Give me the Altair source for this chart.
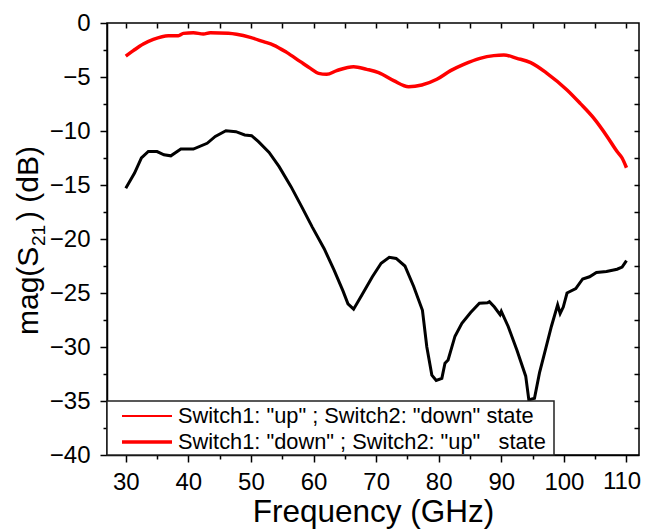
import altair as alt
import pandas as pd

# ---- data ----
red_f = [30.0, 31.2, 32.8, 34.4, 36.8, 38.4, 39.2, 40.8, 42.4, 43.5, 46.4, 47.7, 49.9, 52.0, 53.6,
         55.7, 57.9, 59.5, 60.8, 62.1, 63.7, 66.4, 68.5, 70.4, 72.8, 75.2, 77.3, 79.7, 81.9, 84.0,
         86.6, 88.8, 90.4, 92.5, 94.7, 97.3, 100.5, 102.6, 104.8, 106.9, 108.5, 109.3, 110.0]
red_db = [-3.06, -2.56, -1.94, -1.51, -1.17, -1.17, -0.96, -0.90, -1.02, -0.90, -0.96, -1.05, -1.33, -1.73, -2.04,
          -2.72, -3.58, -4.20, -4.66, -4.75, -4.41, -4.04, -4.29, -4.60, -5.34, -5.90, -5.74, -5.21, -4.41, -3.83,
          -3.27, -3.02, -2.96, -3.27, -3.67, -4.66, -6.20, -7.44, -8.83, -10.50, -11.90, -12.50, -13.40]

black_f = [30.0, 31.4, 32.5, 33.6, 35.0, 36.1, 37.2, 38.8, 40.8, 43.0, 44.3, 46.0, 47.6, 49.0, 50.1,
           51.2, 52.9, 54.5, 56.4, 58.1, 59.8, 61.7, 63.3, 64.7, 65.5, 66.4, 67.7, 69.4, 70.8, 72.1,
           73.2, 74.6, 76.0, 77.4, 78.1, 78.9, 79.6, 80.5, 81.0, 81.5, 82.6, 83.7, 85.1, 86.5, 87.8,
           88.1, 88.9, 89.8, 90.0, 91.1, 92.5, 93.9, 94.4, 95.3, 96.1, 96.9, 98.0, 99.0, 99.4,
           99.9, 100.5, 101.9, 103.0, 104.1, 105.2, 106.8, 108.5, 109.3, 110.0]
black_db = [-15.3, -13.9, -12.5, -11.9, -11.9, -12.2, -12.3, -11.67, -11.67, -11.14, -10.5, -9.97, -10.06, -10.37, -10.43,
            -10.99, -11.98, -13.3, -15.15, -17.0, -18.9, -20.9, -22.9, -24.8, -26.0, -26.5, -25.2, -23.5, -22.25, -21.7,
            -21.8, -22.5, -24.4, -26.6, -30.0, -32.6, -33.1, -32.9, -31.5, -31.2, -29.0, -27.8, -26.8, -25.95, -25.9,
            -25.8, -26.3, -27.0, -26.7, -28.1, -30.3, -32.7, -34.9, -34.75, -32.4, -30.6, -28.1, -26.1, -26.9,
            -26.3, -25.0, -24.6, -23.7, -23.5, -23.1, -23.0, -22.8, -22.6, -22.0]

legend_labels = ['Switch1: "up" ; Switch2: "down" state',
                 'Switch1: "down" ; Switch2: "up"\u00a0\u00a0 state']
x_major = [30, 40, 50, 60, 70, 80, 90, 100, 110]
x_minor = [35, 45, 55, 65, 75, 85, 95, 105]
y_major = [-40, -35, -30, -25, -20, -15, -10, -5, 0]
y_minor = [-37.5, -32.5, -27.5, -22.5, -17.5, -12.5, -7.5, -2.5]
x_title = "Frequency (GHz)"
y_title_parts = ["mag(S", "21", ") (dB)"]
last_x_label = "110"

FONT = "Arial, Liberation Sans, sans-serif"
W, H = 532, 432

red_df = pd.DataFrame({"f": red_f, "db": red_db})
black_df = pd.DataFrame({"f": black_f, "db": black_db})

xs = alt.Scale(domain=[27, 112], nice=False, zero=False)
ys = alt.Scale(domain=[-40, 0], nice=False, zero=False)

common = dict(grid=False, tickColor="black", tickWidth=1.5)

ax_x_major = alt.Axis(orient="bottom", values=x_major, tickSize=7, domainColor="black", domainWidth=1.5,
                      labelFont=FONT, labelFontSize=24, labelColor="black", labelPadding=8,
                      labelFlush=False, labelOverlap=False,
                      labelExpr="datum.value == 110 ? '' : datum.label",
                      title=x_title, titleFont=FONT, titleFontSize=31.5, titleFontWeight="normal",
                      titleColor="black", titlePadding=2, **common)
ax_x_minor = alt.Axis(orient="bottom", values=x_minor, tickSize=4, domain=False, labels=False, title=None, **common)
ax_x_top = alt.Axis(orient="top", values=x_major + x_minor, tickSize=5, offset=-5, domain=False,
                    labels=False, title=None, **common)

ax_y_major = alt.Axis(orient="left", values=y_major, tickSize=7, domainColor="black", domainWidth=1.5,
                      labelFont=FONT, labelFontSize=24, labelColor="black", labelPadding=10,
                      labelFlush=False, labelOverlap=False,
                      labelExpr="replace(datum.label, '-', '\u2212')",
                      title=None, **common)
ax_y_minor = alt.Axis(orient="left", values=y_minor, tickSize=4, domain=False, labels=False, title=None, **common)
ax_y_right = alt.Axis(orient="right", values=y_major[1:-1] + y_minor, tickSize=5, offset=-5, domain=False,
                      labels=False, title=None, **common)

red_line = alt.Chart(red_df).mark_line(color="#ff0000", strokeWidth=3.5, interpolate="monotone").encode(
    x=alt.X("f:Q", scale=xs, axis=ax_x_major),
    y=alt.Y("db:Q", scale=ys, axis=ax_y_major),
)
black_line = alt.Chart(black_df).mark_line(color="black", strokeWidth=3).encode(
    x=alt.X("f:Q", scale=xs, axis=ax_x_minor),
    y=alt.Y("db:Q", scale=ys, axis=ax_y_minor),
)
mirror = alt.Chart(black_df).mark_line(opacity=0).encode(
    x=alt.X("f:Q", scale=xs, axis=ax_x_top),
    y=alt.Y("db:Q", scale=ys, axis=ax_y_right),
)

one = pd.DataFrame({"k": [0]})
# last tick label, nudged left a little so it stays inside the canvas
lbl110 = alt.Chart(one).mark_text(align="center", baseline="top", font=FONT, fontSize=24, color="black").encode(
    x=alt.value(515), y=alt.value(447), text=alt.value(last_x_label))

leg_box = alt.Chart(one).mark_rect(fill="white", stroke="#222222", strokeWidth=1.5).encode(
    x=alt.value(0), x2=alt.value(447), y=alt.value(378), y2=alt.value(432))
leg_l1 = alt.Chart(one).mark_rule(color="#ff0000", strokeWidth=2).encode(
    x=alt.value(15), x2=alt.value(65), y=alt.value(393))
leg_l2 = alt.Chart(one).mark_rule(color="#ff0000", strokeWidth=3.5).encode(
    x=alt.value(15), x2=alt.value(65), y=alt.value(419))
leg_t1 = alt.Chart(one).mark_text(align="left", baseline="middle", font=FONT, fontSize=21.8, color="black").encode(
    x=alt.value(71), y=alt.value(393), text=alt.value(legend_labels[0]))
leg_t2 = alt.Chart(one).mark_text(align="left", baseline="middle", font=FONT, fontSize=21.8, color="black").encode(
    x=alt.value(71), y=alt.value(419), text=alt.value(legend_labels[1]))

yt1 = alt.Chart(one).mark_text(align="left", baseline="alphabetic", angle=270, font=FONT, fontSize=30,
                               color="black").encode(x=alt.value(-69), y=alt.value(312),
                                                     text=alt.value(y_title_parts[0]))
yt2 = alt.Chart(one).mark_text(align="left", baseline="alphabetic", angle=270, font=FONT, fontSize=19,
                               color="black").encode(x=alt.value(-62), y=alt.value(223),
                                                     text=alt.value(y_title_parts[1]))
yt3 = alt.Chart(one).mark_text(align="left", baseline="alphabetic", angle=270, font=FONT, fontSize=30,
                               color="black").encode(x=alt.value(-69), y=alt.value(198),
                                                     text=alt.value(y_title_parts[2]))

chart = alt.layer(
    red_line, black_line, mirror, lbl110, leg_box, leg_l1, leg_l2, leg_t1, leg_t2, yt1, yt2, yt3
).resolve_axis(x="independent", y="independent").properties(
    width=W, height=H,
    autosize=alt.AutoSizeParams(type="none"),
    padding={"left": 99, "top": 15, "right": 2, "bottom": 74},
    background="white",
).configure_view(stroke="black", strokeWidth=1.5)

chart.save("out.html", embed_options={"renderer": "svg", "actions": False})
